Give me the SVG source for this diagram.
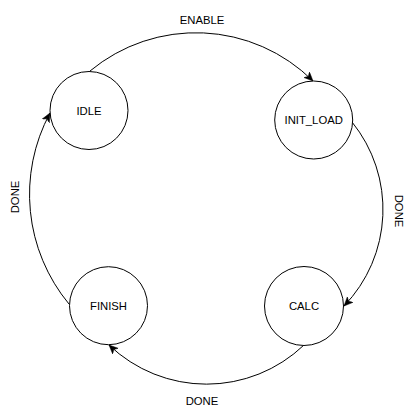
<svg xmlns="http://www.w3.org/2000/svg" width="404" height="407" viewBox="0 0 404 407">
<style>
.n{fill:#fff;stroke:#000;stroke-width:1}
.t{font-family:"Liberation Sans",Arial,sans-serif;font-size:11.3px;fill:#000;text-anchor:middle}
.e{fill:none;stroke:#000;stroke-width:1;marker-end:url(#a)}
</style>
<defs>
<marker id="a" markerUnits="userSpaceOnUse" markerWidth="12" markerHeight="10" refX="9" refY="4" orient="auto" viewBox="0 0 12 10">
<path d="M0,0 L9,4 L0,8 L2.5,4 Z" fill="#000" stroke="#000" stroke-width="0.5"/>
</marker>
</defs>
<rect width="404" height="407" fill="#fff"/>
<g id="edges">
<path class="e" d="M90,71 A166,166 0 0,1 313,81"/>
<path class="e" d="M352,122 A139,139 0 0,1 344,306"/>
<path class="e" d="M304,345 A141,141 0 0,1 109,345"/>
<path class="e" d="M69,304 A172,172 0 0,1 50,113"/>
<text class="t" x="202" y="24">ENABLE</text>
<text class="t" transform="translate(395,211) rotate(90)">DONE</text>
<text class="t" x="202" y="405">DONE</text>
<text class="t" transform="translate(19,197) rotate(-90)">DONE</text>
</g>
<g id="idle"><circle class="n" cx="89" cy="110.5" r="39"/><text class="t" x="89" y="114.5">IDLE</text></g>
<g id="init_load"><circle class="n" cx="313.7" cy="120" r="39"/><text class="t" x="313.7" y="124">INIT_LOAD</text></g>
<g id="calc"><circle class="n" cx="304" cy="306" r="39.5"/><text class="t" x="304" y="310">CALC</text></g>
<g id="finish"><circle class="n" cx="108.5" cy="305.7" r="39"/><text class="t" x="108.5" y="309.7">FINISH</text></g>
</svg>
